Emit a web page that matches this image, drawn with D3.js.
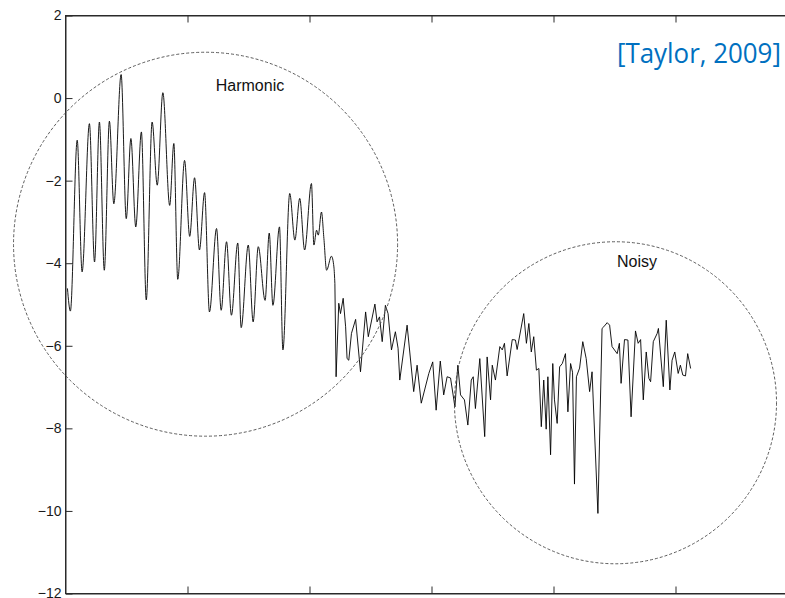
<!DOCTYPE html>
<html>
<head>
<meta charset="utf-8">
<script src="https://cdn.jsdelivr.net/npm/d3@7"></script>
<style>
  html, body { margin: 0; padding: 0; background: #fff; }
  svg { display: block; }
</style>
</head>
<body>
<svg id="chart" width="785" height="598"></svg>
<script>
// Sample positions of the turning points of the signal
const sampleIdx = [
  0.8, 2.0, 4.8, 6.8, 9.8, 11.9, 13.9, 15.9, 18.0, 19.8,
  22.8, 24.9, 26.8, 28.8, 31.1, 33.1, 35.5, 37.6, 39.9, 42.7,
  44.4, 46.0, 48.8, 50.9, 52.9, 54.9, 57.0, 59.0, 61.9, 63.8,
  66.0, 68.0, 70.6, 72.0, 74.9, 76.9, 79.0, 81.8, 83.5, 85.0,
  87.7, 89.1, 91.9, 94.0, 96.0, 98.0, 100.8, 101.8, 102.9, 103.6,
  104.9, 105.9, 107.0, 109.0, 110.0, 110.4, 110.9, 112.0, 112.7, 113.8,
  114.8, 115.4, 116.1, 117.2, 118.9, 120.9, 123.0, 124.1, 126.8, 127.7,
  128.7, 129.8, 131.1, 132.2, 133.6, 135.2, 136.3, 137.0, 140.0, 142.7,
  144.1, 145.8, 148.9, 150.5, 151.9, 153.6, 155.0, 156.4, 157.8, 159.6,
  160.8, 161.9, 163.5, 164.9, 166.3, 167.1, 168.0, 169.8, 171.8, 172.8,
  174.2, 174.9, 176.2, 178.0, 179.0, 179.9, 181.0, 183.1, 184.4, 185.1,
  187.8, 188.9, 189.9, 190.9, 191.9, 193.0, 194.0, 195.0, 196.0, 197.0,
  197.7, 198.8, 199.7, 200.4, 201.5, 202.5, 203.6, 204.9, 205.9, 207.0,
  207.8, 208.6, 209.4, 210.7, 212.0, 213.4, 214.8, 215.8, 218.2, 219.9,
  220.6, 222.0, 223.0, 224.0, 226.1, 227.0, 227.7, 229.1, 230.5, 231.8,
  233.6, 234.7, 235.7, 236.8, 238.0, 239.1, 239.8, 240.9, 242.5, 243.0,
  245.0, 246.2, 247.7, 248.6, 249.7, 251.1, 252.0, 253.0, 254.1, 255.0, 256.2
];

// Signal value at each of those positions
const signal = [
  -4.61, -5.16, -1.02, -4.21, -0.62, -3.97, -0.58, -4.17, -0.56, -2.56,
  0.57, -2.92, -0.98, -3.12, -0.82, -4.89, -0.58, -2.11, 0.13, -2.6,
  -1.1, -4.39, -1.51, -3.35, -1.93, -3.68, -2.29, -5.18, -3.16, -5.14,
  -3.48, -5.26, -3.51, -5.56, -3.56, -5.42, -3.6, -4.9, -3.27, -5.02,
  -3.12, -6.1, -2.31, -3.44, -2.43, -3.68, -2.07, -3.56, -3.2, -3.32,
  -2.76, -3.4, -4.17, -3.83, -4.09, -4.49, -6.75, -4.97, -5.22, -4.85,
  -5.54, -6.31, -6.35, -5.7, -5.36, -6.63, -5.18, -5.78, -4.99, -5.42,
  -5.3, -5.9, -5.02, -5.22, -6.1, -5.66, -6.06, -6.83, -5.5, -7.11,
  -6.47, -7.39, -6.67, -6.39, -7.56, -6.37, -7.19, -6.75, -6.78, -7.48,
  -6.47, -7.19, -7.31, -7.92, -6.83, -6.75, -7.52, -6.31, -8.2, -6.27,
  -7.31, -6.47, -6.83, -6.02, -6.1, -5.94, -6.73, -5.85, -5.86, -6.09,
  -5.22, -5.94, -5.46, -6.15, -5.78, -6.59, -6.55, -7.96, -6.83, -8.02,
  -6.75, -8.64, -6.43, -7.31, -7.88, -6.51, -6.43, -6.19, -7.6, -6.43,
  -6.64, -9.35, -6.75, -6.54, -5.9, -6.31, -7.11, -6.63, -10.06, -5.58,
  -5.54, -5.44, -5.5, -6.02, -6.19, -5.94, -6.91, -5.85, -5.86, -7.72,
  -5.64, -5.94, -5.85, -7.31, -6.15, -6.79, -6.87, -5.9, -5.7, -5.58,
  -6.99, -5.38, -7.07, -6.35, -6.15, -6.67, -6.47, -6.71, -6.73, -6.19, -6.55
];

// The oscillating stretch ends here; after it the trace is drawn with straight segments
const harmonicEnd = 110.4;

const xTicks = [50, 100, 150, 200, 250];
const yTicks = [2, 0, -2, -4, -6, -8, -10, -12];

// Regions circled on the plot: centre and radii in data units
const regionNames = ["Harmonic", "Noisy"];
const regionCx = [57.4, 225.4];
const regionCy = [-3.54, -7.38];
const regionRx = [78.7, 66.0];
const regionRy = [4.65, 3.9];
const regionLabelX = [75.6, 234.2];
const regionLabelY = [0.16, -4.08];

const citation = "[Taylor, 2009]";

const svg = d3.select("#chart");
const plotLeft = 65.5, plotTop = 15.5, plotBottom = 593.5, plotRight = 797.5;

const x = d3.scaleLinear().domain([0, 300]).range([plotLeft, plotRight]);
const y = d3.scaleLinear().domain([-12, 2]).range([plotBottom, plotTop]);

const axisColor = "#2b2b2b";
const font = "'Liberation Sans', Arial, sans-serif";

// Frame
svg.append("rect")
  .attr("x", plotLeft).attr("y", plotTop)
  .attr("width", plotRight - plotLeft).attr("height", plotBottom - plotTop)
  .attr("fill", "none").attr("stroke", axisColor).attr("stroke-width", 1);

// Left axis with inward ticks
const gy = svg.append("g").attr("transform", `translate(${plotLeft},0)`)
  .call(d3.axisLeft(y).tickValues(yTicks).tickSizeInner(-7).tickSizeOuter(0).tickPadding(4));
gy.select(".domain").attr("stroke", axisColor);
gy.selectAll(".tick line").attr("stroke", axisColor);
gy.selectAll(".tick text")
  .attr("font-family", font).attr("font-size", 14).attr("fill", "#1a1a1a");

// Bottom and top axes, ticks only
const gx = svg.append("g").attr("transform", `translate(0,${plotBottom})`)
  .call(d3.axisBottom(x).tickValues(xTicks).tickSizeInner(-7).tickSizeOuter(0).tickFormat(""));
gx.select(".domain").attr("stroke", axisColor);
gx.selectAll(".tick line").attr("stroke", axisColor);

const gt = svg.append("g").attr("transform", `translate(0,${plotTop})`)
  .call(d3.axisTop(x).tickValues(xTicks).tickSizeInner(-7).tickSizeOuter(0).tickFormat(""));
gt.select(".domain").attr("stroke", axisColor);
gt.selectAll(".tick line").attr("stroke", axisColor);

// Signal trace: rounded through the oscillating part, straight through the noisy part
const points = sampleIdx.map((t, i) => [t, signal[i]]);
const smoothPart = points.filter(d => d[0] <= harmonicEnd);
const roughPart = points.filter(d => d[0] >= harmonicEnd);
const smoothLine = d3.line().curve(d3.curveMonotoneX).x(d => x(d[0])).y(d => y(d[1]));
const roughLine = d3.line().x(d => x(d[0])).y(d => y(d[1]));
[[smoothPart, smoothLine], [roughPart, roughLine]].forEach(([part, gen]) => {
  svg.append("path")
    .datum(part)
    .attr("fill", "none")
    .attr("stroke", "#000")
    .attr("stroke-width", 0.9)
    .attr("stroke-linejoin", "round")
    .attr("d", gen);
});

// Dashed region outlines and their labels
regionNames.forEach((name, i) => {
  svg.append("ellipse")
    .attr("cx", x(regionCx[i])).attr("cy", y(regionCy[i]))
    .attr("rx", x(regionCx[i] + regionRx[i]) - x(regionCx[i]))
    .attr("ry", y(regionCy[i] - regionRy[i]) - y(regionCy[i]))
    .attr("fill", "none")
    .attr("stroke", "#4a4a4a")
    .attr("stroke-width", 0.9)
    .attr("stroke-dasharray", "3,2");
  svg.append("text")
    .attr("x", x(regionLabelX[i]))
    .attr("y", y(regionLabelY[i]))
    .attr("text-anchor", "middle")
    .attr("font-family", font)
    .attr("font-size", 16)
    .attr("fill", "#111")
    .text(name);
});

// Citation, narrowed horizontally to a condensed look
const cite = svg.append("text")
  .attr("x", 0).attr("y", 0)
  .attr("font-family", "'Open Sans', 'Noto Sans', sans-serif")
  .attr("font-size", 27)
  .attr("fill", "#0070C0")
  .text(citation);
const citeWidth = cite.node().getComputedTextLength();
cite.attr("transform", `translate(617,63) scale(${164 / citeWidth},1)`);
</script>
</body>
</html>
